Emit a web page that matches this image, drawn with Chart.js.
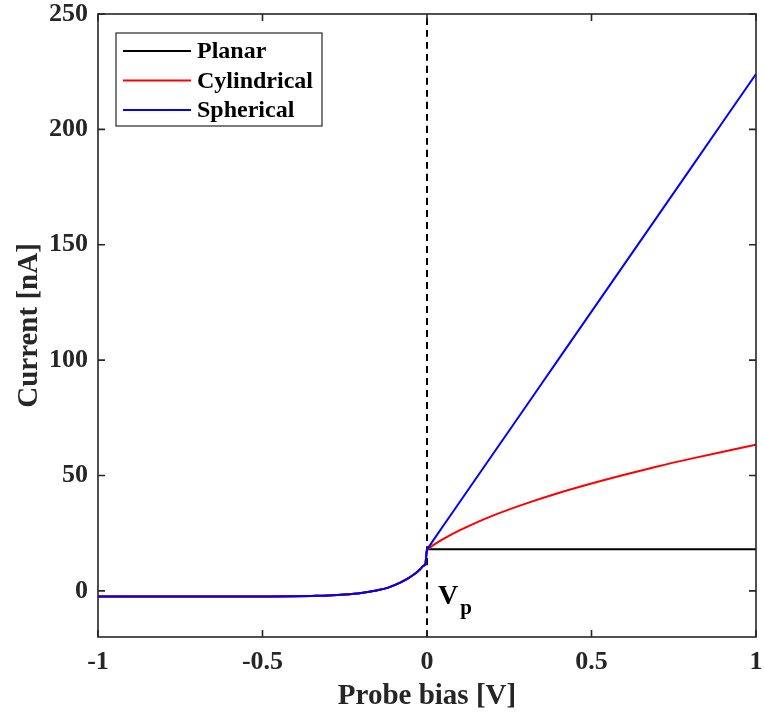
<!DOCTYPE html>
<html lang="en">
<head>
  <meta charset="UTF-8" />
  <title>Probe current vs bias</title>
  <script src="https://cdn.jsdelivr.net/npm/chart.js"></script>
  <style>
    html, body { margin: 0; padding: 0; background: #fff; }
    #wrap { width: 764px; height: 714px; }
  </style>
</head>
<body>
  <div id="wrap"><canvas id="probeChart"></canvas></div>

  <script>
    // values
    const biasNeg = [-1, -0.6, -0.5, -0.4, -0.35, -0.3, -0.25, -0.2, -0.15, -0.12, -0.1, -0.08, -0.06, -0.04, -0.03, -0.02, -0.01, -0.005];
    const currentNeg = [-2.5, -2.5, -2.45, -2.35, -2.2, -2.0, -1.6, -0.9, 0.3, 1.3, 2.4, 3.7, 5.2, 7.1, 8.2, 9.5, 10.9, 11.6];
    const biasPos = [0, 0.005, 0.02, 0.05, 0.1, 0.15, 0.2, 0.3, 0.4, 0.5, 0.6, 0.7, 0.8, 0.9, 1];
    const planar = [18, 18, 18, 18, 18, 18, 18, 18, 18, 18, 18, 18, 18, 18, 18];
    const cylindrical = [18, 18.5, 19.9, 22.5, 26.3, 29.6, 32.6, 37.8, 42.4, 46.5, 50.3, 53.9, 57.2, 60.3, 63.3];
    const spherical = [18, 19, 22.1, 28.3, 38.6, 48.9, 59.2, 79.8, 100.4, 121, 141.6, 162.2, 182.8, 203.4, 224];
    const vpBias = 0;
    const xTicks = [-1, -0.5, 0, 0.5, 1];
    const yTicks = [0, 50, 100, 150, 200, 250];

    const axisColor = '#262626';
    const serif = "'Liberation Serif', 'Times New Roman', serif";

    function toPoints(xs, ys) {
      return xs.map((v, i) => ({ x: v, y: ys[i] }));
    }
    function fullCurve(pos) {
      return toPoints(biasNeg, currentNeg).concat(toPoints(biasPos, pos));
    }

    // frame, inward ticks, legend and V_p label, MATLAB-like
    const decor = {
      id: 'decor',
      afterDraw(chart) {
        const { ctx, chartArea: a, scales: { x, y } } = chart;
        ctx.save();
        ctx.strokeStyle = axisColor;
        ctx.lineWidth = 1.6;
        ctx.strokeRect(a.left, a.top, a.right - a.left, a.bottom - a.top);
        const len = 7;
        ctx.beginPath();
        xTicks.forEach(v => {
          const px = x.getPixelForValue(v);
          ctx.moveTo(px, a.bottom); ctx.lineTo(px, a.bottom - len);
          ctx.moveTo(px, a.top); ctx.lineTo(px, a.top + len);
        });
        yTicks.forEach(v => {
          const py = y.getPixelForValue(v);
          ctx.moveTo(a.left, py); ctx.lineTo(a.left + len, py);
          ctx.moveTo(a.right, py); ctx.lineTo(a.right - len, py);
        });
        ctx.stroke();

        // legend inside top-left
        const items = chart.data.datasets.filter(d => d.label);
        const bx = a.left + 18, by = a.top + 19, bw = 206, bh = 93;
        ctx.fillStyle = '#fff';
        ctx.fillRect(bx, by, bw, bh);
        ctx.lineWidth = 1.2;
        ctx.strokeRect(bx, by, bw, bh);
        ctx.font = 'bold 24px ' + serif;
        ctx.textBaseline = 'middle';
        items.forEach((d, i) => {
          const ly = by + 18 + i * 29.5;
          ctx.strokeStyle = d.borderColor;
          ctx.lineWidth = 2;
          ctx.beginPath();
          ctx.moveTo(bx + 7, ly); ctx.lineTo(bx + 75, ly);
          ctx.stroke();
          ctx.fillStyle = '#000';
          ctx.fillText(d.label, bx + 81, ly + 1);
        });

        // V_p label
        const vx = x.getPixelForValue(vpBias) + 11;
        const vy = y.getPixelForValue(0) + 13;
        ctx.fillStyle = '#000';
        ctx.textBaseline = 'alphabetic';
        ctx.font = 'bold 28px ' + serif;
        ctx.fillText('V', vx, vy);
        const w = ctx.measureText('V').width;
        ctx.font = 'bold 21px ' + serif;
        ctx.fillText('p', vx + w + 2, vy + 10);
        ctx.restore();
      }
    };

    new Chart(document.getElementById('probeChart'), {
      type: 'line',
      data: {
        datasets: [
          {
            label: 'Planar',
            data: fullCurve(planar),
            borderColor: '#000000',
            borderWidth: 2,
            order: 3
          },
          {
            label: 'Cylindrical',
            data: fullCurve(cylindrical),
            borderColor: '#ff0000',
            borderWidth: 2,
            order: 2
          },
          {
            label: 'Spherical',
            data: fullCurve(spherical),
            borderColor: '#0000ff',
            borderWidth: 2,
            order: 1
          },
          {
            label: '',
            data: [{ x: vpBias, y: -20 }, { x: vpBias, y: 250 }],
            borderColor: '#000000',
            borderWidth: 2,
            borderDash: [7, 5],
            order: 4
          }
        ]
      },
      options: {
        responsive: true,
        maintainAspectRatio: false,
        animation: false,
        cubicInterpolationMode: 'monotone',
        elements: { point: { radius: 0 } },
        layout: { padding: { top: 14, right: 8, left: 12, bottom: 0 } },
        plugins: {
          legend: { display: false },
          tooltip: { enabled: false }
        },
        scales: {
          x: {
            type: 'linear',
            min: -1,
            max: 1,
            afterBuildTicks: s => { s.ticks = xTicks.map(v => ({ value: v })); },
            afterFit: s => { s.height = 77; s.paddingLeft = 0; s.paddingRight = 0; },
            grid: { display: false, drawTicks: false },
            border: { display: false },
            ticks: {
              padding: 10,
              color: '#262626',
              font: { family: serif, size: 26, weight: 'bold' },
              callback: v => String(v)
            },
            title: {
              display: true,
              text: 'Probe bias [V]',
              color: '#262626',
              padding: { top: 2, bottom: 0 },
              font: { family: serif, size: 29, weight: 'bold' }
            }
          },
          y: {
            type: 'linear',
            min: -20,
            max: 250,
            afterBuildTicks: s => { s.ticks = yTicks.map(v => ({ value: v })); },
            afterFit: s => { s.width = 86; s.paddingTop = 0; s.paddingBottom = 0; },
            grid: { display: false, drawTicks: false },
            border: { display: false },
            ticks: {
              padding: 10,
              color: '#262626',
              font: { family: serif, size: 26, weight: 'bold' },
              callback: v => String(v)
            },
            title: {
              display: true,
              text: 'Current [nA]',
              color: '#262626',
              padding: { top: 0, bottom: 4 },
              font: { family: serif, size: 29, weight: 'bold' }
            }
          }
        }
      },
      plugins: [decor]
    });
  </script>
</body>
</html>
